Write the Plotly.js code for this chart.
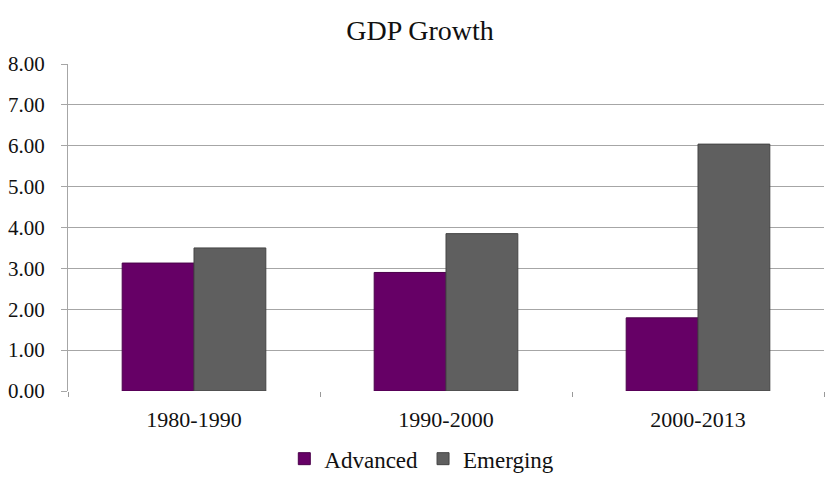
<!DOCTYPE html>
<html>
<head>
<meta charset="utf-8">
<script src="https://cdn.plot.ly/plotly-3.0.1.min.js"></script>
<style>html,body{margin:0;padding:0;background:#fff;}#chart{width:840px;height:488px;}</style>
</head>
<body>
<div id="chart"></div>
<script>
const categories = ["1980-1990", "1990-2000", "2000-2013"];
const advanced = [3.13, 2.90, 1.79];
const emerging = [3.50, 3.85, 6.04];
const tickVals = [0, 1, 2, 3, 4, 5, 6, 7, 8];

const font = "Liberation Serif";

const traces = [
  {type: "bar", name: "Advanced", x: categories, y: advanced,
   marker: {color: "#660066", line: {color: "#4a004a", width: 1}}},
  {type: "bar", name: "Emerging", x: categories, y: emerging,
   marker: {color: "#5f5f5f", line: {color: "#444444", width: 1}}}
];

const layout = {
  width: 840, height: 488,
  margin: {l: 68, r: 16, t: 64, b: 97},
  paper_bgcolor: "#ffffff", plot_bgcolor: "rgba(0,0,0,0)",
  font: {family: font, color: "#111111", size: 21},
  title: {text: "GDP Growth", x: 0.5, xanchor: "center", y: 0.938, yanchor: "middle",
          font: {family: font, size: 28, color: "#111111"}},
  barmode: "group", bargap: 0.43, bargroupgap: 0,
  xaxis: {type: "category", showgrid: false, showline: false, automargin: false,
          ticks: "outside", tickson: "boundaries", ticklen: 5, tickcolor: "#999999",
          ticklabelstandoff: 13,
          tickfont: {family: font, size: 22, color: "#111111"}},
  yaxis: {range: [0, 8], tickvals: tickVals, tickformat: ".2f", automargin: false,
          showgrid: true, gridcolor: "#a6a6a6", gridwidth: 1,
          showline: true, linecolor: "#a6a6a6", linewidth: 1,
          ticks: "outside", ticklen: 6, tickcolor: "#a6a6a6",
          ticklabelstandoff: 12,
          zeroline: false,
          tickfont: {family: font, size: 21, color: "#111111"}},
  legend: {orientation: "h", x: 0.468, xanchor: "center",
           yref: "container", y: 0.06, yanchor: "middle",
           font: {family: font, size: 23, color: "#111111"}, itemwidth: 30,
           traceorder: "normal"},
  showlegend: true
};

Plotly.newPlot("chart", traces, layout, {displayModeBar: false, staticPlot: true});
</script>
</body>
</html>
